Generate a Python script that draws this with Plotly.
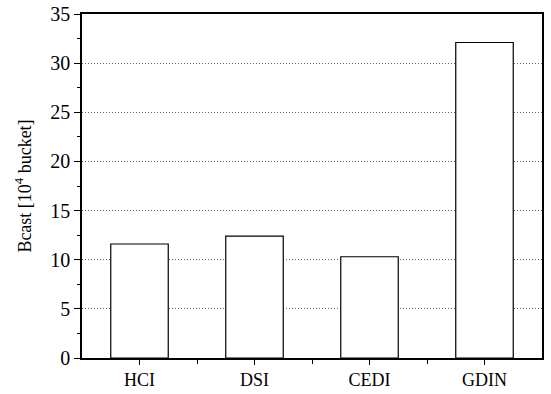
import plotly.graph_objects as go

categories = ["HCI", "DSI", "CEDI", "GDIN"]
values = [11.6, 12.4, 10.3, 32.1]
positions = list(range(len(categories)))

fig = go.Figure()
fig.add_trace(go.Bar(
    x=positions, y=values, width=0.5,
    marker=dict(color="white", line=dict(color="black", width=1.2)),
    showlegend=False,
))

font = dict(family="Liberation Serif", color="black")
fig.update_layout(
    width=551, height=394,
    margin=dict(l=82, r=9, t=14, b=36),
    paper_bgcolor="white", plot_bgcolor="white",
    font=dict(**font, size=19),
)
fig.update_xaxes(
    range=[-0.5, 3.5], tickvals=positions, ticktext=categories,
    ticks="outside", ticklen=5, tickwidth=1.2, tickcolor="black",
    showline=True, linecolor="black", linewidth=1.5, mirror=True,
    showgrid=False, zeroline=False, automargin=False,
    minor=dict(tickvals=[0.5, 1.5, 2.5], ticks="outside", ticklen=4, tickcolor="black", showgrid=False),
    tickfont=dict(size=18),
)
fig.update_yaxes(
    range=[0, 35], dtick=5,
    ticks="outside", ticklen=6, tickwidth=1.2, tickcolor="black",
    showline=True, linecolor="black", linewidth=1.5, mirror=True,
    showgrid=True, gridcolor="#666666", griddash="1px,2px", gridwidth=1,
    zeroline=False, automargin=False,
    minor=dict(dtick=2.5, ticks="outside", ticklen=3, tickcolor="black", showgrid=False),
    tickfont=dict(size=20),
    title=dict(text="Bcast [10<sup>4</sup> bucket]", font=dict(size=18), standoff=14),
)

fig.write_html("out.html")
